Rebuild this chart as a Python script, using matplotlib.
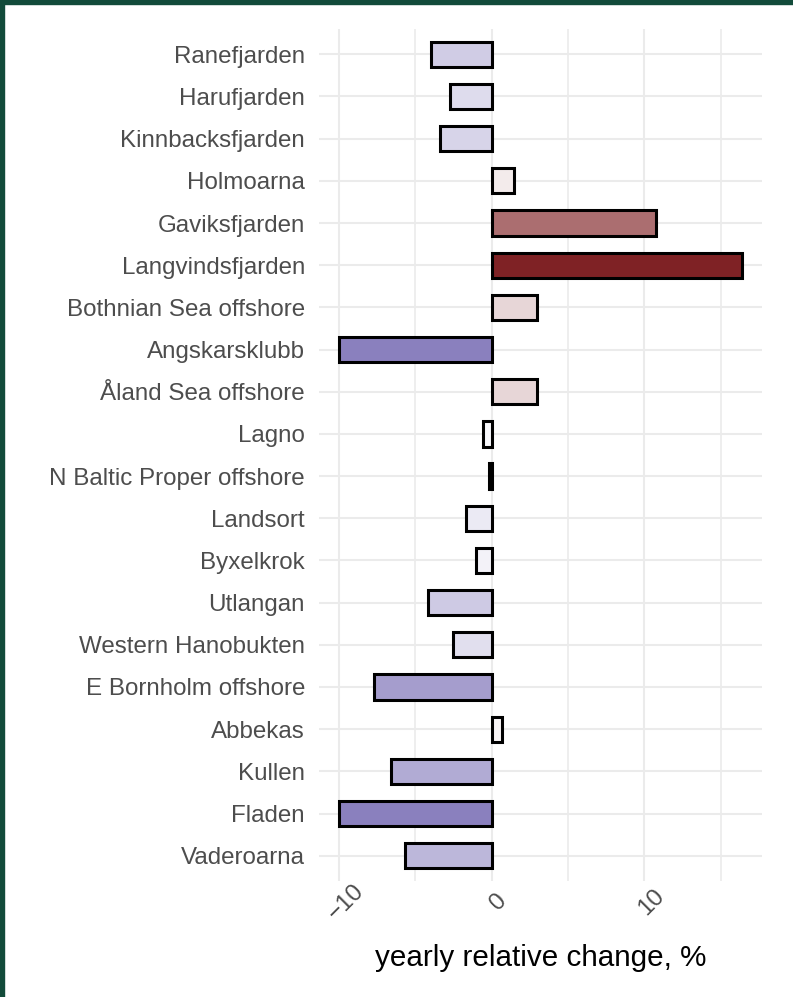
import matplotlib
matplotlib.use("Agg")
import matplotlib.pyplot as plt
import matplotlib.transforms as mtransforms
from matplotlib.colors import LinearSegmentedColormap, TwoSlopeNorm
from matplotlib.patches import Rectangle
import numpy as np

stations = ["Ranefjarden", "Harufjarden", "Kinnbacksfjarden", "Holmoarna",
            "Gaviksfjarden", "Langvindsfjarden", "Bothnian Sea offshore",
            "Angskarsklubb", "Åland Sea offshore", "Lagno",
            "N Baltic Proper offshore", "Landsort", "Byxelkrok", "Utlangan",
            "Western Hanobukten", "E Bornholm offshore", "Abbekas", "Kullen",
            "Fladen", "Vaderoarna"]
change = [-4.0, -2.75, -3.4, 1.45, 10.75, 16.4, 2.95, -10.0, 2.95, -0.55,
          -0.2, -1.7, -1.05, -4.2, -2.55, -7.7, 0.7, -6.6, -10.0, -5.7]
xticks = [-10, 0, 10]
xtick_labels = ["\u221210", "0", "10"]
minor_ticks = [-5, 5, 15]
xlabel = "yearly relative change, %"

plt.rcParams['font.family'] = ['Liberation Sans', 'DejaVu Sans']

fig = plt.figure(figsize=(7.93, 9.97), dpi=100)
ax = fig.add_axes([319/793, 1-881/997, (762-319)/793, (881-29)/997])

cmap = LinearSegmentedColormap.from_list("div", ["#8a80be", "#ffffff", "#7f2225"])
vals = np.array(change)
norm = TwoSlopeNorm(vmin=vals.min(), vcenter=0, vmax=vals.max())
colors = [cmap(norm(v)) for v in vals]

y = np.arange(len(stations))
ax.barh(y, vals, height=0.6, color=colors, edgecolor="black", linewidth=2.2, zorder=3)

rng = vals.max() - min(vals.min(), 0)
ax.set_xlim(min(vals.min(), 0) - 0.05*rng, max(vals.max(), 0) + 0.05*rng)
ax.set_ylim(len(stations) - 0.4, -0.6)

ax.set_yticks(y)
ax.set_yticklabels(stations, fontsize=17.4, color="#4d4d4d")
ax.set_xticks(xticks)
ax.set_xticks(minor_ticks, minor=True)
ax.set_xticklabels(xtick_labels, fontsize=17.4, color="#4d4d4d")
ax.tick_params(axis="both", which="both", length=0)
ax.tick_params(axis="y", pad=10)
ax.tick_params(axis="x", pad=15)
offset = mtransforms.ScaledTranslation(7/100, 0, fig.dpi_scale_trans)
for lab in ax.get_xticklabels():
    lab.set_rotation(45)
    lab.set_rotation_mode("anchor")
    lab.set_ha("center")
    lab.set_va("center")
    lab.set_transform(lab.get_transform() + offset)

ax.grid(True, which="major", axis="both", color="#ebebeb", linewidth=1.5, zorder=0)
ax.grid(True, which="minor", axis="x", color="#ebebeb", linewidth=1.2, zorder=0)
for s in ax.spines.values():
    s.set_visible(False)

ax.set_xlabel(xlabel, fontsize=21.3, color="black", labelpad=14)

# dark frame strips (top and left)
fig.patches.append(Rectangle((0, 1-4/997), 1, 4/997, transform=fig.transFigure,
                             color="#124b3a", zorder=10))
fig.patches.append(Rectangle((0, 0), 4/793, 1, transform=fig.transFigure,
                             color="#124b3a", zorder=10))

fig.savefig("out.png", dpi=100)
